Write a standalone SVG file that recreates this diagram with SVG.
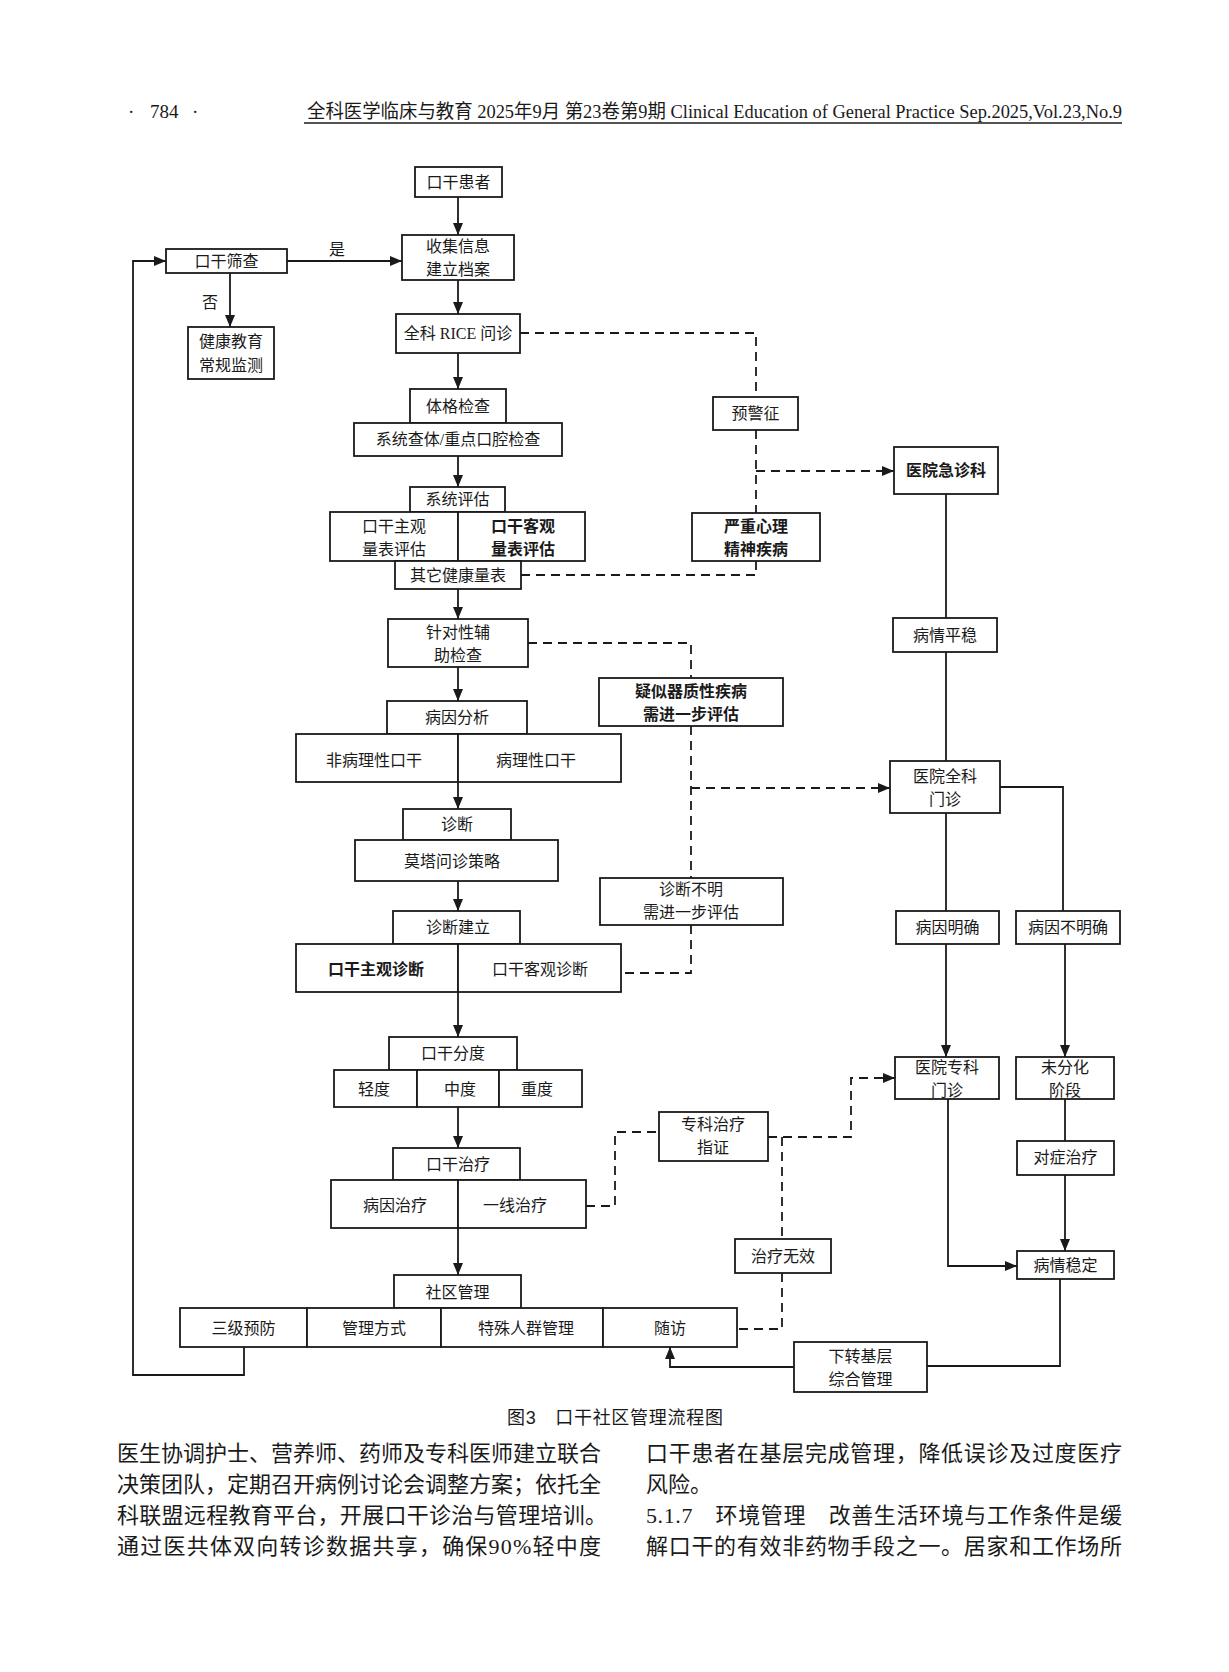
<svg xmlns="http://www.w3.org/2000/svg" width="1229" height="1672" viewBox="0 0 1229 1672">
<defs>
<style>
.b{fill:#fff;stroke:#1a1a1a;stroke-width:1.8}
.t{font-family:"Liberation Serif","Noto Sans CJK SC",serif;font-size:16px;fill:#1a1a1a;text-anchor:middle;dominant-baseline:central}
.bd{font-weight:bold}
.c{fill:none;stroke:#1a1a1a;stroke-width:1.8}
.d{fill:none;stroke:#1a1a1a;stroke-width:1.8;stroke-dasharray:9 6}
.a{marker-end:url(#arr)}
.body{font-family:"Liberation Serif","Noto Sans CJK SC",serif;font-size:22px;fill:#1a1a1a}
.hd{font-family:"Liberation Serif","Noto Sans CJK SC",serif;font-size:19px;fill:#1a1a1a}
</style>
<marker id="arr" viewBox="0 0 12 10" refX="12" refY="5" markerWidth="12" markerHeight="10" markerUnits="userSpaceOnUse" orient="auto">
<path d="M0,0 L12,5 L0,10 z" fill="#1a1a1a" stroke="none"/>
</marker>
</defs>
<rect width="1229" height="1672" fill="#fff"/>

<g id="header">
<text class="hd" x="128" y="118">·<tspan x="150">784</tspan><tspan x="192">·</tspan></text>
<text class="hd" x="307" y="118" textLength="815" lengthAdjust="spacingAndGlyphs">全科医学临床与教育 2025年9月 第23卷第9期 Clinical Education of General Practice  Sep.2025,Vol.23,No.9</text>
<line x1="304" y1="123" x2="1122" y2="123" stroke="#1a1a1a" stroke-width="1.3"/>
</g>

<g id="connectors">
<line class="c a" x1="458" y1="197" x2="458" y2="235"/>
<line class="c a" x1="458" y1="280" x2="458" y2="314"/>
<line class="c a" x1="458" y1="353" x2="458" y2="389"/>
<line class="c a" x1="458" y1="456" x2="458" y2="487"/>
<line class="c a" x1="458" y1="589" x2="458" y2="619"/>
<line class="c a" x1="458" y1="667" x2="458" y2="701"/>
<line class="c a" x1="458" y1="782" x2="458" y2="809"/>
<line class="c a" x1="458" y1="881" x2="458" y2="911"/>
<line class="c a" x1="458" y1="992" x2="458" y2="1037"/>
<line class="c a" x1="458" y1="1107" x2="458" y2="1148"/>
<line class="c a" x1="458" y1="1228" x2="458" y2="1275"/>
<line class="c a" x1="287" y1="261" x2="402" y2="261"/>
<line class="c a" x1="230" y1="273" x2="230" y2="327"/>
<polyline class="c a" points="244,1347 244,1375 133,1375 133,261 166,261"/>
<line class="c" x1="946" y1="494" x2="946" y2="618"/>
<line class="c" x1="946" y1="652" x2="946" y2="761"/>
<line class="c" x1="946" y1="813" x2="946" y2="911"/>
<polyline class="c" points="1000,787 1063,787 1063,911"/>
<line class="c a" x1="946" y1="944" x2="946" y2="1057"/>
<line class="c a" x1="1065" y1="944" x2="1065" y2="1057"/>
<line class="c" x1="1065" y1="1099" x2="1065" y2="1141"/>
<line class="c a" x1="1065" y1="1175" x2="1065" y2="1251"/>
<polyline class="c a" points="948,1099 948,1266 1017,1266"/>
<polyline class="c" points="1060,1279 1060,1366 927,1366"/>
<polyline class="c a" points="794,1367 670,1367 670,1347"/>
<polyline class="d" points="520,333 756,333 756,397"/>
<line class="d" x1="756" y1="430" x2="756" y2="513"/>
<line class="d a" x1="756" y1="471" x2="894" y2="471"/>
<polyline class="d" points="756,561 756,575 521,575"/>
<polyline class="d" points="528,643 691,643 691,678"/>
<line class="d" x1="691" y1="726" x2="691" y2="878"/>
<line class="d a" x1="691" y1="788" x2="890" y2="788"/>
<polyline class="d" points="691,925 691,973 621,973"/>
<polyline class="d" points="586,1206 615,1206 615,1132 659,1132"/>
<polyline class="d a" points="768,1137 851,1137 851,1078 895,1078"/>
<line class="d" x1="782" y1="1137" x2="782" y2="1239"/>
<polyline class="d" points="782,1273 782,1329 737,1329"/>
<text class="t" x="337" y="249">是</text>
<text class="t" x="210" y="302">否</text>
</g>

<g id="n_patient"><rect class="b" x="415" y="167" width="87" height="30"/><text class="t" x="458.5" y="182">口干患者</text></g>
<g id="n_collect"><rect class="b" x="402" y="235" width="112" height="45"/><text class="t" x="458" y="246">收集信息</text><text class="t" x="458" y="269">建立档案</text></g>
<g id="n_screen"><rect class="b" x="166" y="249" width="121" height="24"/><text class="t" x="226.5" y="261">口干筛查</text></g>
<g id="n_edu"><rect class="b" x="188" y="327" width="86" height="52"/><text class="t" x="231" y="341">健康教育</text><text class="t" x="231" y="365">常规监测</text></g>
<g id="n_rice"><rect class="b" x="396" y="314" width="124" height="39"/><text class="t" x="458" y="333.5">全科 RICE 问诊</text></g>
<g id="n_phys"><rect class="b" x="410" y="389" width="96" height="34"/><text class="t" x="458" y="406">体格检查</text>
<rect class="b" x="354" y="423" width="208" height="33"/><text class="t" x="458" y="439.5">系统查体/重点口腔检查</text></g>
<g id="n_eval"><rect class="b" x="410" y="487" width="95" height="25"/><text class="t" x="457.5" y="499.5">系统评估</text>
<rect class="b" x="330" y="512" width="128" height="49"/><rect class="b" x="458" y="512" width="127" height="49"/>
<text class="t" x="394" y="526">口干主观</text><text class="t" x="394" y="549">量表评估</text>
<text class="t bd" x="523" y="526">口干客观</text><text class="t bd" x="523" y="549">量表评估</text>
<rect class="b" x="395" y="561" width="126" height="28"/><text class="t" x="458" y="575">其它健康量表</text></g>
<g id="n_warn"><rect class="b" x="713" y="397" width="85" height="33"/><text class="t" x="755.5" y="413.5">预警征</text></g>
<g id="n_psych"><rect class="b" x="692" y="513" width="128" height="48"/><text class="t bd" x="756" y="526">严重心理</text><text class="t bd" x="756" y="549">精神疾病</text></g>
<g id="n_er"><rect class="b" x="894" y="447" width="104" height="47"/><text class="t bd" x="946" y="470.5">医院急诊科</text></g>
<g id="n_aux"><rect class="b" x="388" y="619" width="140" height="48"/><text class="t" x="458" y="632">针对性辅</text><text class="t" x="458" y="655">助检查</text></g>
<g id="n_organic"><rect class="b" x="599" y="678" width="184" height="48"/><text class="t bd" x="691" y="691">疑似器质性疾病</text><text class="t bd" x="691" y="714">需进一步评估</text></g>
<g id="n_cause"><rect class="b" x="387" y="701" width="140" height="33"/><text class="t" x="457" y="717.5">病因分析</text>
<rect class="b" x="296" y="734" width="162" height="48"/><rect class="b" x="458" y="734" width="163" height="48"/>
<text class="t" x="374" y="760">非病理性口干</text><text class="t" x="536" y="760">病理性口干</text></g>
<g id="n_diag"><rect class="b" x="403" y="809" width="108" height="31"/><text class="t" x="457" y="824.5">诊断</text>
<rect class="b" x="355" y="840" width="203" height="41"/><text class="t" x="452" y="861">莫塔问诊策略</text></g>
<g id="n_unclear"><rect class="b" x="600" y="878" width="183" height="47"/><text class="t" x="691" y="889">诊断不明</text><text class="t" x="691" y="912">需进一步评估</text></g>
<g id="n_diagest"><rect class="b" x="393" y="911" width="127" height="33"/><text class="t" x="458" y="927">诊断建立</text>
<rect class="b" x="296" y="944" width="162" height="48"/><rect class="b" x="458" y="944" width="163" height="48"/>
<text class="t bd" x="376" y="969">口干主观诊断</text><text class="t" x="540" y="969">口干客观诊断</text></g>
<g id="n_stable1"><rect class="b" x="893" y="618" width="104" height="34"/><text class="t" x="945" y="635">病情平稳</text></g>
<g id="n_gp"><rect class="b" x="890" y="761" width="110" height="52"/><text class="t" x="945" y="776">医院全科</text><text class="t" x="945" y="799">门诊</text></g>
<g id="n_known"><rect class="b" x="896" y="911" width="103" height="33"/><text class="t" x="947.5" y="927.5">病因明确</text></g>
<g id="n_unknown"><rect class="b" x="1016" y="911" width="104" height="33"/><text class="t" x="1068" y="927.5">病因不明确</text></g>
<g id="n_grade"><rect class="b" x="389" y="1037" width="128" height="33"/><text class="t" x="453" y="1053.5">口干分度</text>
<rect class="b" x="334" y="1070" width="83" height="37"/><rect class="b" x="417" y="1070" width="82" height="37"/><rect class="b" x="499" y="1070" width="83" height="37"/>
<text class="t" x="374" y="1089">轻度</text><text class="t" x="460" y="1089">中度</text><text class="t" x="537" y="1089">重度</text></g>
<g id="n_treat"><rect class="b" x="393" y="1148" width="127" height="32"/><text class="t" x="458" y="1164">口干治疗</text>
<rect class="b" x="331" y="1180" width="127" height="48"/><rect class="b" x="458" y="1180" width="128" height="48"/>
<text class="t" x="395" y="1205">病因治疗</text><text class="t" x="515" y="1205">一线治疗</text></g>
<g id="n_spec_ind"><rect class="b" x="659" y="1112" width="109" height="49"/><text class="t" x="713" y="1124">专科治疗</text><text class="t" x="713" y="1147">指证</text></g>
<g id="n_spec"><rect class="b" x="895" y="1057" width="104" height="42"/><text class="t" x="947" y="1067">医院专科</text><text class="t" x="947" y="1090">门诊</text></g>
<g id="n_undiff"><rect class="b" x="1016" y="1057" width="98" height="42"/><text class="t" x="1065" y="1067">未分化</text><text class="t" x="1065" y="1090">阶段</text></g>
<g id="n_symp"><rect class="b" x="1017" y="1141" width="97" height="34"/><text class="t" x="1065.5" y="1157">对症治疗</text></g>
<g id="n_stable2"><rect class="b" x="1017" y="1251" width="97" height="28"/><text class="t" x="1065.5" y="1265">病情稳定</text></g>
<g id="n_fail"><rect class="b" x="735" y="1239" width="96" height="34"/><text class="t" x="783" y="1256">治疗无效</text></g>
<g id="n_comm"><rect class="b" x="394" y="1275" width="127" height="33"/><text class="t" x="457.5" y="1292">社区管理</text>
<rect class="b" x="180" y="1308" width="127" height="39"/><rect class="b" x="307" y="1308" width="134" height="39"/><rect class="b" x="441" y="1308" width="162" height="39"/><rect class="b" x="603" y="1308" width="134" height="39"/>
<text class="t" x="243.5" y="1328">三级预防</text><text class="t" x="374" y="1328">管理方式</text><text class="t" x="526" y="1328">特殊人群管理</text><text class="t" x="670" y="1328">随访</text></g>
<g id="n_down"><rect class="b" x="794" y="1342" width="133" height="50"/><text class="t" x="860.5" y="1356">下转基层</text><text class="t" x="860.5" y="1379">综合管理</text></g>

<g id="caption">
<text x="507" y="1424" font-family="'Liberation Sans','Noto Sans CJK SC',sans-serif" font-size="18" fill="#1a1a1a" textLength="216" lengthAdjust="spacing">图3　口干社区管理流程图</text>
</g>

<g id="bodytext">
<text class="body" x="117" y="1461" textLength="484" lengthAdjust="spacing">医生协调护士、营养师、药师及专科医师建立联合</text>
<text class="body" x="117" y="1492" textLength="484" lengthAdjust="spacing">决策团队，定期召开病例讨论会调整方案；依托全</text>
<text class="body" x="117" y="1523" textLength="490" lengthAdjust="spacing">科联盟远程教育平台，开展口干诊治与管理培训。</text>
<text class="body" x="117" y="1554" textLength="484" lengthAdjust="spacing">通过医共体双向转诊数据共享，确保90%轻中度</text>
<text class="body" x="646" y="1461" textLength="476" lengthAdjust="spacing">口干患者在基层完成管理，降低误诊及过度医疗</text>
<text class="body" x="646" y="1492">风险。</text>
<text class="body" x="646" y="1523" textLength="476" lengthAdjust="spacing">5.1.7　环境管理　改善生活环境与工作条件是缓</text>
<text class="body" x="646" y="1554" textLength="476" lengthAdjust="spacing">解口干的有效非药物手段之一。居家和工作场所</text>
</g>
</svg>
